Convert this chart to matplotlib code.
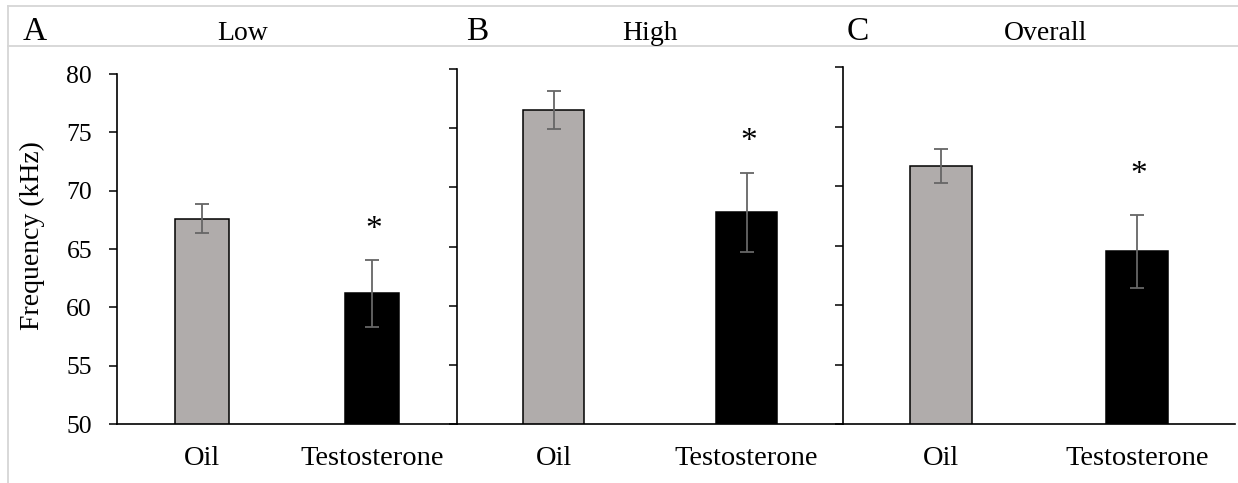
import numpy as np
import matplotlib.pyplot as plt
from matplotlib.lines import Line2D

plt.rcParams['font.family'] = ['Liberation Serif', 'DejaVu Serif']

# Mean call frequency (kHz) and error per treatment group
groups = ['Oil', 'Testosterone']
panel_letters = ['A', 'B', 'C']
panel_titles = ['Low', 'High', 'Overall']

low_mean = [67.6, 61.2]
low_err = [1.25, 2.85]
high_mean = [76.5, 67.9]
high_err = [1.6, 3.35]
overall_mean = [71.7, 64.5]
overall_err = [1.45, 3.1]

# significant difference marker per panel (Testosterone vs Oil)
significant = [True, True, True]

W, H = 1238, 483
OIL_GREY = '#b0acab'
ERR_GREY = '#666666'
BORDER = '#d6d6d6'


def px_box(left, top, right, bottom):
    """Axes rectangle from pixel edges (origin at top-left)."""
    return [left / W, 1 - bottom / H, (right - left) / W, (bottom - top) / H]


def draw_panel(ax, mean, err, show_labels, star, star_gap):
    x = np.arange(len(groups))
    ax.bar(x, mean, width=0.32, color=[OIL_GREY, 'black'],
           edgecolor='black', linewidth=1.1, zorder=2)
    ax.errorbar(x, mean, yerr=err, fmt='none', ecolor=ERR_GREY,
                elinewidth=1.3, capsize=5, capthick=1.3, zorder=3)
    if star:
        ax.annotate('*', xy=(x[1], mean[1] + err[1]), xytext=(1.5, star_gap),
                    textcoords='offset points', ha='center', va='baseline',
                    fontsize=24)
    ax.set_xlim(-0.5, 1.5)
    ax.set_ylim(50, 80)
    ax.set_yticks(np.arange(50, 81, 5))
    ax.set_xticks(x)
    ax.set_xticklabels(groups, fontsize=20.5)
    ax.tick_params(axis='x', length=0, pad=16)
    ax.tick_params(axis='y', direction='out', length=6, width=1.1,
                   labelsize=18.5, pad=12, labelleft=show_labels)
    for side in ['top', 'right']:
        ax.spines[side].set_visible(False)
    for side in ['left', 'bottom']:
        ax.spines[side].set_linewidth(1.2)
    ax.patch.set_alpha(0)


fig = plt.figure(figsize=(W / 100, H / 100), dpi=100)

boxes = [px_box(117, 74, 457, 424),
         px_box(457, 69, 843, 424),
         px_box(843, 67, 1235, 424)]
data = [(low_mean, low_err), (high_mean, high_err), (overall_mean, overall_err)]
star_gaps = [16, 16, 23]

for i, (rect, (m, e)) in enumerate(zip(boxes, data)):
    ax = fig.add_axes(rect)
    draw_panel(ax, m, e, show_labels=(i == 0), star=significant[i],
               star_gap=star_gaps[i])

# panel letters and titles
letter_x = [35, 477, 858]
title_x = [243, 650, 1046]
for lx, tx, letter, title in zip(letter_x, title_x, panel_letters, panel_titles):
    fig.text(lx / W, 1 - 40 / H, letter, fontsize=24, ha='center', va='baseline')
    fig.text(tx / W, 1 - 40 / H, title, fontsize=20, ha='center', va='baseline')

fig.text(32 / W, 1 - 236 / H, 'Frequency (kHz)', rotation=90, fontsize=20,
         ha='center', va='center')

# light grey frame around the figure and under the title row
fig.add_artist(Line2D([8 / W, 1], [1 - 6 / H, 1 - 6 / H], transform=fig.transFigure,
                      color=BORDER, lw=1.3))
fig.add_artist(Line2D([8 / W, 1], [1 - 46 / H, 1 - 46 / H], transform=fig.transFigure,
                      color=BORDER, lw=1.3))
fig.add_artist(Line2D([8 / W, 8 / W], [0, 1 - 6 / H], transform=fig.transFigure,
                      color=BORDER, lw=1.3))

fig.savefig('out.png', dpi=100)
